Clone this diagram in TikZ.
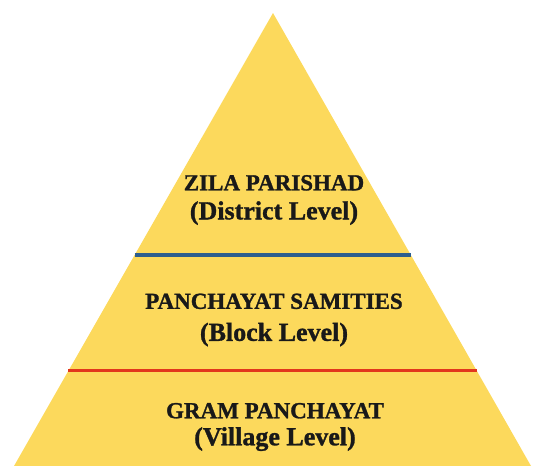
\documentclass[tikz,border=0pt]{standalone}
\usepackage{fontspec}
\setmainfont[BoldFeatures={FakeBold=1.2}]{Liberation Serif}
\usetikzlibrary{calc}
\definecolor{pyramidYellow}{HTML}{FCD95C}
\definecolor{districtBlue}{HTML}{2D5E8E}
\definecolor{blockRed}{HTML}{E2361C}
\newcommand\levelname{\fontsize{26}{29}\selectfont}
\tikzset{%
  % Specifications for style of nodes:
       level/.style = {align=center, font=\bfseries\fontsize{23}{29}\selectfont,
                       text=black!90, inner sep=0pt},
   separator/.style = {line width=3.2pt},
}

\begin{document}
\begin{tikzpicture}[x=1pt, y=-1pt]
  \useasboundingbox (0,0) rectangle (533,466);
  % Corners of the pyramid
  \coordinate (apex)  at (273,13);
  \coordinate (left)  at (14,466);
  \coordinate (right) at (531,466);
  \fill[pyramidYellow] (apex) -- (left) -- (right) -- cycle;
  % Lines between the levels
  \draw[separator, districtBlue] ($(apex)!0.534!(left)$) -- ($(apex)!0.534!(right)$);
  \draw[separator, blockRed]     ($(apex)!0.790!(left)$) -- ($(apex)!0.790!(right)$);
  % Specification of the level texts
  \node (zila)  [level] at (274,200) {ZILA PARISHAD\\{\levelname(District Level)}};
  \node (samiti)[level, font=\bfseries\fontsize{23}{32}\selectfont] at (274,320) {PANCHAYAT SAMITIES\\{\levelname(Block Level)}};
  \node (gram)  [level, font=\bfseries\fontsize{23}{27}\selectfont] at (275,427) {GRAM PANCHAYAT\\{\levelname(Village Level)}};
\end{tikzpicture}
\end{document}
